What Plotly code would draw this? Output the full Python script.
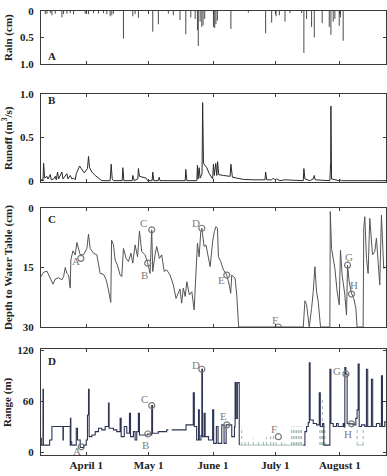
import pandas as pd
import plotly.graph_objects as go
from plotly.subplots import make_subplots

BASE = pd.Timestamp("2004-04-01")

# ---------------- data (days relative to April 1) ----------------
rain_day = [-19.7, -18.9, -17.3, -16.5, -14.9, -11.7, -10.9, -9.3, -7.7, -6.1,
            -0.5, 1.1, 3.5, 5.9, 8.3, 9.9, 11.5, 12.3, 13.1, 17.9,
            22.4, 23.5, 25.1, 32.0, 34.7, 39.5, 41.9, 45.1, 47.9, 50.3,
            52.4, 53.5, 53.9, 54.8, 55.6, 56.2, 57.0, 61.2, 61.8, 62.4,
            63.1, 69.6, 78.0, 86.3, 89.2, 91.3, 92.9, 95.6, 98.0, 103.6,
            104.7, 106.0, 108.4, 109.7, 113.5, 116.9, 117.7, 118.8, 119.6, 121.7,
            122.3, 123.6]
rain_cm = [0.06, 0.05, 0.04, 0.08, 0.05, 0.12, 0.06, 0.05, 0.04, 0.06,
           0.05, 0.06, 0.04, 0.05, 0.04, 0.06, 0.10, 0.08, 0.05, 0.52,
           0.10, 0.06, 0.13, 0.39, 0.25, 0.05, 0.08, 0.17, 0.44, 0.12,
           0.15, 0.36, 0.66, 0.20, 0.30, 0.27, 0.15, 0.30, 0.32, 0.25,
           0.18, 0.34, 0.03, 0.42, 0.22, 0.10, 0.08, 0.20, 0.04, 0.04,
           0.79, 0.15, 0.30, 0.50, 0.23, 0.30, 0.45, 0.20, 0.15, 0.28,
           0.12, 0.56]

runoff_day = [-21.8, -20.8, -20.5, -20.0, -18.9, -18.4, -17.3, -16.8, -15.7, -14.9,
              -14.4, -13.8, -13.3, -11.7, -11.2, -10.1, -9.3, -8.8, -7.7, -6.9,
              -6.1, -5.3, -4.8, -3.2, -2.1, -1.0, 0.6, 1.1, 1.6, 2.7,
              4.3, 5.9, 7.5, 11.5, 12.0, 12.5, 13.1, 17.3, 17.6, 18.1,
              22.1, 22.4, 23.1, 24.8, 25.1, 25.6, 27.5, 28.8, 29.5, 31.7,
              32.0, 32.5, 34.7, 35.1, 35.5, 47.6, 47.9, 48.4, 53.2, 53.5,
              53.8, 54.3, 54.8, 55.7, 56.0, 56.4, 57.0, 58.0, 59.2, 60.4,
              60.8, 61.2, 61.6, 62.3, 62.8, 63.2, 63.7, 66.0, 69.2, 69.6,
              70.3, 72.4, 75.6, 80.4, 86.0, 86.3, 86.8, 89.2, 90.0, 90.8,
              91.6, 93.2, 95.6, 104.4, 104.7, 105.2, 106.0, 107.5, 109.2, 109.7,
              110.1, 117.2, 117.6, 117.7, 118.0, 121.7, 122.0, 122.8, 144.4]
runoff_m3s = [0.01, 0.01, 0.20, 0.03, 0.05, 0.02, 0.07, 0.01, 0.02, 0.05,
              0.01, 0.10, 0.02, 0.10, 0.02, 0.05, 0.08, 0.02, 0.06, 0.02,
              0.03, 0.01, 0.08, 0.17, 0.13, 0.09, 0.14, 0.28, 0.15, 0.10,
              0.06, 0.03, 0.00, 0.00, 0.19, 0.02, 0.00, 0.00, 0.15, 0.00,
              0.00, 0.06, 0.00, 0.02, 0.14, 0.05, 0.04, 0.03, 0.00, 0.00,
              0.10, 0.00, 0.00, 0.04, 0.00, 0.00, 0.13, 0.00, 0.00, 0.18,
              0.02, 0.15, 0.03, 0.08, 0.90, 0.20, 0.18, 0.15, 0.08, 0.04,
              0.02, 0.19, 0.06, 0.20, 0.06, 0.22, 0.07, 0.06, 0.05, 0.19,
              0.04, 0.03, 0.015, 0.01, 0.01, 0.10, 0.01, 0.01, 0.03, 0.01,
              0.02, 0.00, 0.01, 0.00, 0.14, 0.02, 0.01, 0.00, 0.02, 0.06,
              0.01, 0.00, 0.22, 0.86, 0.02, 0.00, 0.01, 0.00, 0.00]

depth_day = [-21.8, -20.5, -18.9, -17.3, -16.0, -14.9, -13.3, -11.7, -10.9, -10.1,
             -9.3, -8.5, -7.7, -7.4, -6.4, -5.3, -4.5, -2.9, -1.3, 0.3,
             1.1, 1.9, 3.5, 5.1, 6.7, 8.3, 9.6, 10.7, 11.8, 12.2,
             13.1, 13.9, 15.0, 16.3, 17.1, 17.9, 19.2, 20.3, 21.5, 22.4,
             23.5, 24.7, 25.6, 26.7, 28.3, 29.6, 30.7, 31.5, 32.0, 33.1,
             33.9, 35.2, 36.3, 37.5, 38.7, 40.3, 41.9, 43.2, 44.3, 45.1,
             45.9, 46.7, 47.6, 48.4, 49.6, 50.8, 51.9, 52.8, 53.5, 54.3,
             55.1, 55.6, 56.7, 57.6, 58.8, 59.6, 60.8, 61.6, 62.4, 63.1,
             63.6, 64.7, 66.0, 67.6, 68.8, 69.5, 70.0, 71.6, 72.4, 73.3,
             104.4, 105.2, 106.0, 107.3, 108.4, 109.2, 110.0, 110.8, 111.6, 112.7,
             117.2, 117.4, 118.0, 118.8, 119.6, 120.7, 121.7, 122.3, 123.1, 124.4,
             125.2, 125.7, 126.5, 127.6, 128.7, 129.7, 130.3, 133.2, 133.5, 134.0,
             134.8, 135.6, 136.4, 137.7, 138.8, 139.6, 140.9, 141.2, 142.0, 143.1,
             144.4]
depth_cm = [17.3, 16.2, 15.9, 17.6, 19.2, 17.9, 17.6, 18.1, 17.3, 15.0,
            16.5, 16.9, 20.2, 13.1, 10.8, 11.8, 8.7, 11.8, 11.8, 10.2,
            6.6, 10.2, 11.4, 11.8, 16.5, 16.7, 18.1, 20.7, 23.8, 8.1,
            9.3, 13.1, 14.4, 16.9, 17.3, 10.2, 12.7, 13.5, 11.4, 13.9,
            9.3, 12.3, 5.8, 11.0, 11.8, 13.9, 16.5, 5.5, 16.0, 11.8,
            9.7, 12.7, 11.8, 16.0, 15.6, 16.9, 19.4, 22.8, 21.1, 20.4,
            24.0, 20.2, 22.3, 18.6, 21.9, 21.1, 25.7, 14.4, 8.9, 12.3,
            6.0, 5.1, 9.7, 9.3, 12.7, 14.8, 8.5, 6.0, 4.7, 5.1,
            12.3, 13.5, 15.6, 16.9, 19.4, 21.5, 16.9, 17.7, 21.9, 30.0,
            30.0, 23.4, 24.4, 30.0, 25.3, 21.1, 14.8, 21.1, 23.6, 30.0,
            30.0, 0.9, 10.2, 12.7, 15.2, 21.1, 24.4, 10.6, 16.9, 21.9,
            27.0, 14.4, 18.6, 21.5, 22.8, 25.3, 30.0, 30.0, 5.1, 2.2,
            12.7, 16.5, 2.6, 11.8, 11.0, 7.6, 17.7, 19.4, 1.8, 15.2,
            14.8]

range_day = [-21.8, -21.6, -20.9, -20.8, -20.6, -18.9, -17.6, -16.5, -11.5, -11.2,
             -11.0, -7.7, -7.6, -7.4, -7.0, -5.8, -4.8, -4.2, -2.9, -1.3,
             0.0, 0.6, 1.1, 1.4, 2.7, 4.3, 5.9, 7.5, 9.1, 10.7,
             11.0, 13.1, 14.7, 16.3, 16.8, 18.3, 19.5, 20.8, 21.3, 22.7,
             23.5, 24.3, 25.1, 25.6, 27.5, 29.6, 31.1, 31.5, 31.9, 34.7,
             38.7, 39.5, None, 41.1, 47.6, 48.0, 51.2, 51.5, 52.0, 53.1,
             54.0, 54.4, 55.2, 55.6, 55.9, 56.7, 57.2, 58.8, 60.4, 60.8,
             61.3, 62.6, 63.4, 65.2, 66.3, 67.3, 69.2, 70.0, 71.3, 71.6,
             72.1, 72.7, 73.3, 73.6, None, 104.4, 105.2, 106.0, 106.8, 107.3,
             107.7, 109.2, 110.8, 111.8, 112.1, 112.6, 113.7, 114.3, 116.9, 117.2,
             117.7, 118.8, 120.4, 121.2, 123.6, 124.1, 124.4, 124.9, 125.5, 126.8,
             128.4, 129.7, 130.3, 130.8, 131.3, 132.4, 134.0, 134.8, 135.4, 136.7,
             137.2, 137.8, 139.6, 141.2, 142.0, 142.5, 143.6, 144.4]
range_m = [16.6, 8.7, 8.7, 74.0, 8.7, 8.7, 14.6, 30.4, 30.4, 14.6,
           30.4, 8.7, 40.0, 12.6, 8.7, 8.7, 28.4, 14.6, 5.9, 8.7,
           14.6, 44.0, 74.0, 18.6, 20.5, 24.5, 28.4, 26.5, 30.4, 58.0,
           28.4, 26.5, 24.5, 40.0, 18.6, 30.4, 22.5, 46.0, 18.6, 24.5,
           14.6, 24.5, 46.0, 20.5, 20.5, 21.7, 20.5, 55.0, 22.5, 24.5,
           26.5, 26.5, None, 26.5, 26.5, 32.4, 32.4, 70.0, 30.4, 14.6,
           50.0, 14.6, 20.0, 97.5, 18.6, 46.0, 18.6, 14.6, 14.6, 50.0,
           10.7, 30.4, 10.7, 32.4, 10.7, 32.4, 32.4, 18.6, 30.0, 81.8,
           40.0, 81.8, 81.8, 8.7, None, 8.7, 24.5, 30.4, 35.0, 105.0,
           38.0, 34.0, 32.4, 32.4, 70.0, 30.4, 34.0, 8.7, 8.7, 97.5,
           34.0, 30.4, 34.0, 30.4, 34.0, 30.0, 99.5, 92.0, 34.0, 33.6,
           32.4, 40.0, 50.0, 103.5, 30.4, 32.4, 30.4, 97.5, 30.4, 30.4,
           85.7, 30.4, 34.0, 30.4, 89.7, 30.4, 36.0, 30.4]

# low-confidence range fixes (light lines)
lowconf_day = [74.8, 76.4, 78.0, 80.4, 82.8, 85.2, 86.8, 88.7, 90.0, 91.3,
               94.0, 95.6, 98.8, 99.6, 100.4, 101.2, 102.0, 102.8, 103.6, 112.4,
               113.0, 113.6, 114.2, 114.8, 130.3, 133.2]
lowconf_m = [30.4, 14.6, 14.6, 16.6, 12.6, 15.4, 17.8, 20.5, 22.5, 14.6,
             12.6, 10.7, 30.4, 30.4, 30.4, 30.4, 30.4, 30.4, 30.4, 30.4,
             30.4, 64.0, 30.4, 30.4, 30.4, 30.4]
lowconf_base_m = 8.7
lowconf_spans = [(73.6, 104.4), (130.3, 133.2)]

event_labels = ["A", "B", "C", "D", "E", "F", "G", "H"]
event_day_c = [-2.6, 29.6, 31.5, 55.6, 67.6, 92.4, 125.7, 127.6]
event_depth = [12.7, 13.9, 5.5, 5.1, 16.9, 30.0, 14.4, 21.7]
event_day_d = [-2.4, 29.6, 31.5, 55.6, 67.6, 92.4, 124.9, 127.6]
event_range = [6.7, 21.7, 55.0, 97.5, 32.4, 18.6, 92.0, 33.6]

tick_dates = ["2004-04-01", "2004-05-01", "2004-06-01", "2004-07-01", "2004-08-01"]
tick_labels = ["April 1", "May 1", "June 1", "July 1", "August 1"]


def to_dates(days):
    return [None if d is None else BASE + pd.Timedelta(days=d) for d in days]


FONT = "Liberation Serif"
AX = "#3a3a3a"

fig = make_subplots(rows=4, cols=1, shared_xaxes=True, vertical_spacing=0.02)

# Panel A: rain as downward sticks
rx, ry = [], []
for d, v in zip(rain_day, rain_cm):
    rx += [d, d, None]
    ry += [0, v, None]
fig.add_trace(go.Scatter(x=to_dates(rx), y=ry, mode="lines",
                         line=dict(color="#4a4a4a", width=1), showlegend=False), row=1, col=1)

# Panel B: runoff
fig.add_trace(go.Scatter(x=to_dates(runoff_day), y=runoff_m3s, mode="lines",
                         line=dict(color="#2a2a2a", width=1), showlegend=False), row=2, col=1)

# Panel C: depth to water table
fig.add_trace(go.Scatter(x=to_dates(depth_day), y=depth_cm, mode="lines",
                         line=dict(color="#555555", width=1), showlegend=False), row=3, col=1)
fig.add_trace(go.Scatter(x=to_dates(event_day_c), y=event_depth, mode="markers",
                         marker=dict(symbol="circle-open", size=6, color="#777777",
                                     line=dict(width=1.2)), showlegend=False), row=3, col=1)

# Panel D: range
bx, by = [], []
for a, b in lowconf_spans:
    bx += [a, b, None]
    by += [lowconf_base_m, lowconf_base_m, None]
fig.add_trace(go.Scatter(x=to_dates(bx), y=by, mode="lines",
                         line=dict(color="#a9c0b8", width=1), showlegend=False), row=4, col=1)
lx, ly = [], []
for d, v in zip(lowconf_day, lowconf_m):
    lx += [d, d, None]
    ly += [lowconf_base_m, v, None]
fig.add_trace(go.Scatter(x=to_dates(lx), y=ly, mode="lines",
                         line=dict(color="#98b2a9", width=1, dash="dot"), showlegend=False), row=4, col=1)
fig.add_trace(go.Scatter(x=to_dates(range_day), y=range_m, mode="lines",
                         line=dict(color="#2d3454", width=1.1, shape="hv"), connectgaps=False,
                         showlegend=False), row=4, col=1)
fig.add_trace(go.Scatter(x=to_dates(event_day_d), y=event_range, mode="markers",
                         marker=dict(symbol="circle-open", size=6, color="#777777",
                                     line=dict(width=1.2)), showlegend=False), row=4, col=1)

# event letters
c_off = [(-5, 3), (-3, 12), (-8, -7), (-6, -5), (-5, 5), (-3, -7), (1, -8), (3, -9)]
d_off = [(-4, 4), (-2, 11), (-7, -7), (-6, -4), (-3, -9), (-4, -8), (-9, -3), (-3, 10)]
for lab, d, v, (dx, dy) in zip(event_labels, event_day_c, event_depth, c_off):
    fig.add_annotation(x=to_dates([d])[0], y=v, xref="x3", yref="y3", text=lab, showarrow=False,
                       xshift=dx, yshift=-dy, font=dict(family=FONT, size=11, color="#808080"))
for lab, d, v, (dx, dy) in zip(event_labels, event_day_d, event_range, d_off):
    fig.add_annotation(x=to_dates([d])[0], y=v, xref="x4", yref="y4", text=lab, showarrow=False,
                       xshift=dx, yshift=-dy, font=dict(family=FONT, size=11, color="#808080"))

tickfont = dict(family=FONT, size=11, color="#222222", weight="bold")
xrange = to_dates([-21.76, 144.2])
for i in range(1, 5):
    fig.update_xaxes(row=i, col=1, range=xrange, tickvals=tick_dates, ticktext=tick_labels,
                     ticks="inside", ticklen=3, tickcolor=AX, showline=True, linecolor=AX,
                     linewidth=1, mirror="ticks", showgrid=False, zeroline=False,
                     tickfont=tickfont, showticklabels=(i == 4))

yspecs = [
    dict(domain=[0.8806, 1.0], range=[1.0, 0.0], tickvals=[0, 0.5, 1.0], ticktext=["0", "0.5", "1.0"]),
    dict(domain=[0.6149, 0.8131], range=[-0.015, 1.0], tickvals=[0, 0.5, 1.0], ticktext=["0", "0.5", "1.0"]),
    dict(domain=[0.2883, 0.5563], range=[30.0, 0.0], tickvals=[0, 15, 30], ticktext=["0", "15", "30"]),
    dict(domain=[0.0, 0.2387], range=[-2.9, 121.2], tickvals=[0, 60, 120], ticktext=["0", "60", "120"]),
]
for i, s in enumerate(yspecs, start=1):
    fig.update_yaxes(row=i, col=1, domain=s["domain"], range=s["range"], tickvals=s["tickvals"],
                     ticktext=s["ticktext"], ticks="inside", ticklen=3, tickcolor=AX,
                     showline=True, linecolor=AX, linewidth=1, mirror="ticks",
                     showgrid=False, zeroline=False, tickfont=tickfont, ticklabelstandoff=4)

# y-axis titles
titles = ["Rain (cm)", "Runoff (m<sup>3</sup>/s)", "Depth to Water Table (cm)", "Range (m)"]
title_y = [0.9414, 0.714, 0.4234, 0.1194]
for t, y in zip(titles, title_y):
    fig.add_annotation(x=-0.0957, y=y, xref="paper", yref="paper", text=t, textangle=-90,
                       showarrow=False, xanchor="center", yanchor="middle",
                       font=dict(family=FONT, size=11, color="#222222", weight="bold"))

# panel letters
letters = ["A", "B", "C", "D"]
letter_y = [0.8986, 0.7995, 0.5315, 0.2117]
for t, y in zip(letters, letter_y):
    fig.add_annotation(x=0.014, y=y, xref="paper", yref="paper", text=t, showarrow=False,
                       xanchor="left", yanchor="middle",
                       font=dict(family=FONT, size=11, color="#222222", weight="bold"))

fig.update_layout(width=387, height=476, margin=dict(l=41, r=1, t=11, b=21),
                  plot_bgcolor="white", paper_bgcolor="white", showlegend=False)

fig.write_html("out.html")
